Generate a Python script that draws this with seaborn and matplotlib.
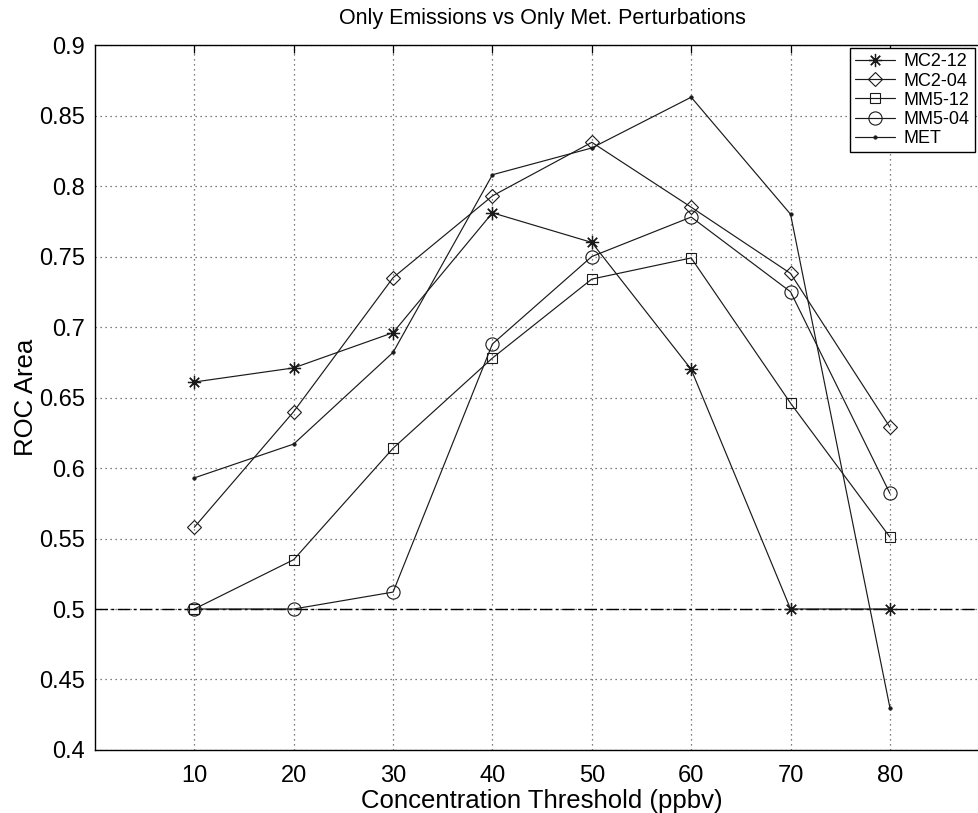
import matplotlib
matplotlib.use("Agg")
import matplotlib.pyplot as plt
import seaborn as sns
import pandas as pd

thresholds = [10, 20, 30, 40, 50, 60, 70, 80]
mc2_12 = [0.661, 0.671, 0.696, 0.781, 0.760, 0.670, 0.500, 0.500]
mc2_04 = [0.558, 0.640, 0.735, 0.793, 0.831, 0.785, 0.738, 0.629]
mm5_12 = [0.500, 0.535, 0.614, 0.678, 0.734, 0.749, 0.646, 0.551]
mm5_04 = [0.500, 0.500, 0.512, 0.688, 0.750, 0.778, 0.725, 0.582]
met = [0.593, 0.617, 0.682, 0.808, 0.827, 0.863, 0.780, 0.430]

series_names = ["MC2-12", "MC2-04", "MM5-12", "MM5-04", "MET"]
series_values = [mc2_12, mc2_04, mm5_12, mm5_04, met]
reference_level = 0.5

df = pd.DataFrame({
    "threshold": thresholds * len(series_names),
    "roc": [v for vals in series_values for v in vals],
    "series": [n for n in series_names for _ in thresholds],
})

sns.set_theme(style="white")
plt.rcParams["font.family"] = ["Liberation Sans", "DejaVu Sans"]
plt.rcParams["text.color"] = "black"
plt.rcParams["axes.labelcolor"] = "black"

fig = plt.figure(figsize=(9.79, 8.13), dpi=100)
ax = fig.add_axes([0.097, 0.0775, 0.9135, 0.8671])

styles = {
    "MC2-12": dict(marker=(8, 2, 0), markersize=9.5, mew=0.9, mfc="none"),
    "MC2-04": dict(marker="D", markersize=7.2, mew=0.8, mfc="none"),
    "MM5-12": dict(marker="s", markersize=7.5, mew=0.8, mfc="none"),
    "MM5-04": dict(marker="o", markersize=9.5, mew=0.8, mfc="none"),
    "MET": dict(marker=".", markersize=5, mew=0.5),
}

# dashed reference line at ROC area = 0.5
ax.axhline(reference_level, color="black", lw=1.0, dashes=(9, 2.5, 2, 2.5), zorder=1)

for name in series_names:
    sub = df[df["series"] == name]
    sns.lineplot(data=sub, x="threshold", y="roc", ax=ax, color="#1a1a1a",
                 lw=0.85, mec="#1a1a1a", label=name, zorder=3, **styles[name])

ax.set_xlim(0, 90)
ax.set_ylim(0.4, 0.9)
ax.set_xticks(thresholds)
yt = [0.4, 0.45, 0.5, 0.55, 0.6, 0.65, 0.7, 0.75, 0.8, 0.85, 0.9]
ax.set_yticks(yt)
ax.set_yticklabels([f"{v:g}" for v in yt])
ax.grid(True, color="#555555", linestyle=(0, (1, 3)), lw=0.9)
ax.tick_params(direction="in", length=6, width=0.9, top=True, right=True,
               labelsize=17, colors="black")
ax.tick_params(axis="x", pad=11)
ax.tick_params(axis="y", pad=7)
for s in ax.spines.values():
    s.set_color("black")
    s.set_linewidth(1.0)

ax.set_xlabel("Concentration Threshold (ppbv)", fontsize=18.5, labelpad=1, color="black")
ax.set_ylabel("ROC Area", fontsize=18.5, labelpad=1, color="black")
ax.set_title("Only Emissions vs Only Met. Perturbations", fontsize=15.5, pad=15,
             color="black")

leg = ax.legend(loc="upper right", bbox_to_anchor=(0.996, 0.941),
                bbox_transform=fig.transFigure, fontsize=13, frameon=True,
                fancybox=False, edgecolor="black", framealpha=1,
                handlelength=2.2, borderpad=0.3, labelspacing=0.12,
                handletextpad=0.5, borderaxespad=0, labelcolor="black")
leg.get_frame().set_linewidth(1.0)

fig.savefig("out.png", dpi=100)
